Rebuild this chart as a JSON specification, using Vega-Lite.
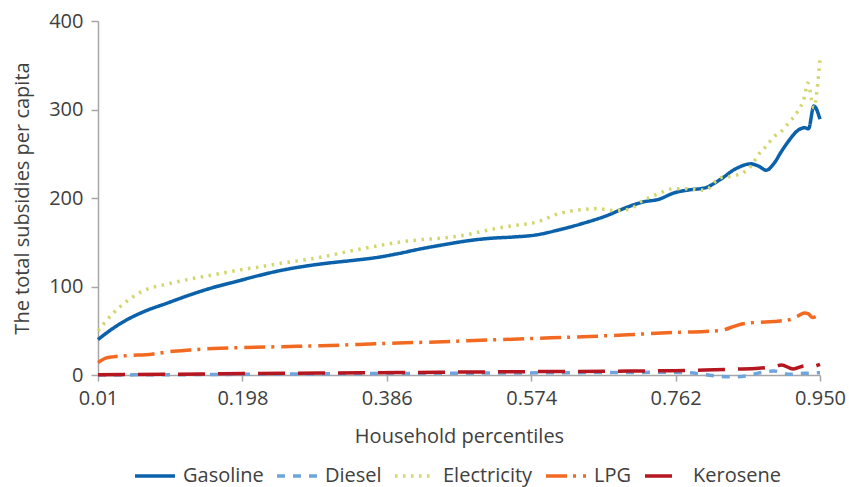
{
  "$schema": "https://vega.github.io/schema/vega-lite/v6.json",
  "autosize": {"type": "none"},
  "width": 722,
  "height": 354,
  "padding": {"left": 98, "top": 21, "right": 29, "bottom": 112},
  "background": "white",
  "config": {
    "view": {"stroke": null},
    "font": "Open Sans",
    "axis": {
      "domainColor": "#a6a6a6", "domainWidth": 1.5, "tickColor": "#a6a6a6", "tickWidth": 1.5,
      "labelFont": "Open Sans", "labelFontSize": 20, "labelColor": "#404040",
      "titleFont": "Open Sans", "titleFontSize": 20, "titleFontWeight": "normal", "titleColor": "#404040",
      "grid": false
    },
    "legend": {
      "labelFont": "Open Sans", "labelFontSize": 20, "labelColor": "#404040"
    }
  },
  "data": {
    "values": [
      {"fuel": "Gasoline", "p": 0.01, "v": 40},
      {"fuel": "Gasoline", "p": 0.03, "v": 53},
      {"fuel": "Gasoline", "p": 0.05, "v": 63.5},
      {"fuel": "Gasoline", "p": 0.07, "v": 71.7},
      {"fuel": "Gasoline", "p": 0.10, "v": 81.2},
      {"fuel": "Gasoline", "p": 0.13, "v": 90.6},
      {"fuel": "Gasoline", "p": 0.16, "v": 98.9},
      {"fuel": "Gasoline", "p": 0.19, "v": 105.7},
      {"fuel": "Gasoline", "p": 0.22, "v": 112.5},
      {"fuel": "Gasoline", "p": 0.25, "v": 118.5},
      {"fuel": "Gasoline", "p": 0.28, "v": 123},
      {"fuel": "Gasoline", "p": 0.31, "v": 126.5},
      {"fuel": "Gasoline", "p": 0.34, "v": 129.3},
      {"fuel": "Gasoline", "p": 0.37, "v": 132.4},
      {"fuel": "Gasoline", "p": 0.40, "v": 137},
      {"fuel": "Gasoline", "p": 0.43, "v": 142.5},
      {"fuel": "Gasoline", "p": 0.46, "v": 147.2},
      {"fuel": "Gasoline", "p": 0.49, "v": 151.5},
      {"fuel": "Gasoline", "p": 0.52, "v": 154.4},
      {"fuel": "Gasoline", "p": 0.55, "v": 155.9},
      {"fuel": "Gasoline", "p": 0.58, "v": 158.2},
      {"fuel": "Gasoline", "p": 0.61, "v": 164},
      {"fuel": "Gasoline", "p": 0.64, "v": 171},
      {"fuel": "Gasoline", "p": 0.67, "v": 179.3},
      {"fuel": "Gasoline", "p": 0.70, "v": 190},
      {"fuel": "Gasoline", "p": 0.72, "v": 195.6},
      {"fuel": "Gasoline", "p": 0.74, "v": 198.5},
      {"fuel": "Gasoline", "p": 0.76, "v": 205.8},
      {"fuel": "Gasoline", "p": 0.78, "v": 209.2},
      {"fuel": "Gasoline", "p": 0.80, "v": 211.4},
      {"fuel": "Gasoline", "p": 0.82, "v": 220.8},
      {"fuel": "Gasoline", "p": 0.84, "v": 232.9},
      {"fuel": "Gasoline", "p": 0.86, "v": 238.6},
      {"fuel": "Gasoline", "p": 0.87, "v": 236},
      {"fuel": "Gasoline", "p": 0.88, "v": 231.4},
      {"fuel": "Gasoline", "p": 0.89, "v": 239},
      {"fuel": "Gasoline", "p": 0.90, "v": 252.9},
      {"fuel": "Gasoline", "p": 0.91, "v": 265.4},
      {"fuel": "Gasoline", "p": 0.92, "v": 275.6},
      {"fuel": "Gasoline", "p": 0.93, "v": 279.4},
      {"fuel": "Gasoline", "p": 0.935, "v": 278.2},
      {"fuel": "Gasoline", "p": 0.942, "v": 303.9},
      {"fuel": "Gasoline", "p": 0.95, "v": 289},

      {"fuel": "Diesel", "p": 0.01, "v": 0},
      {"fuel": "Diesel", "p": 0.10, "v": 0.3},
      {"fuel": "Diesel", "p": 0.20, "v": 0.8},
      {"fuel": "Diesel", "p": 0.30, "v": 1.3},
      {"fuel": "Diesel", "p": 0.40, "v": 1.7},
      {"fuel": "Diesel", "p": 0.50, "v": 2.1},
      {"fuel": "Diesel", "p": 0.60, "v": 2.5},
      {"fuel": "Diesel", "p": 0.70, "v": 2.9},
      {"fuel": "Diesel", "p": 0.74, "v": 3},
      {"fuel": "Diesel", "p": 0.78, "v": 2.5},
      {"fuel": "Diesel", "p": 0.80, "v": 0.5},
      {"fuel": "Diesel", "p": 0.82, "v": -1.5},
      {"fuel": "Diesel", "p": 0.84, "v": -2},
      {"fuel": "Diesel", "p": 0.86, "v": 0},
      {"fuel": "Diesel", "p": 0.87, "v": 2.2},
      {"fuel": "Diesel", "p": 0.89, "v": 4.5},
      {"fuel": "Diesel", "p": 0.91, "v": 0.8},
      {"fuel": "Diesel", "p": 0.93, "v": 1.9},
      {"fuel": "Diesel", "p": 0.95, "v": 2.5},

      {"fuel": "Electricity", "p": 0.01, "v": 50},
      {"fuel": "Electricity", "p": 0.03, "v": 70},
      {"fuel": "Electricity", "p": 0.05, "v": 85},
      {"fuel": "Electricity", "p": 0.07, "v": 95.5},
      {"fuel": "Electricity", "p": 0.10, "v": 102.7},
      {"fuel": "Electricity", "p": 0.13, "v": 108.4},
      {"fuel": "Electricity", "p": 0.16, "v": 113.2},
      {"fuel": "Electricity", "p": 0.19, "v": 118.1},
      {"fuel": "Electricity", "p": 0.22, "v": 122},
      {"fuel": "Electricity", "p": 0.25, "v": 126.5},
      {"fuel": "Electricity", "p": 0.28, "v": 130.2},
      {"fuel": "Electricity", "p": 0.31, "v": 134.8},
      {"fuel": "Electricity", "p": 0.34, "v": 140.4},
      {"fuel": "Electricity", "p": 0.37, "v": 145.3},
      {"fuel": "Electricity", "p": 0.40, "v": 149.8},
      {"fuel": "Electricity", "p": 0.43, "v": 152.9},
      {"fuel": "Electricity", "p": 0.46, "v": 154.8},
      {"fuel": "Electricity", "p": 0.49, "v": 158.5},
      {"fuel": "Electricity", "p": 0.52, "v": 164.2},
      {"fuel": "Electricity", "p": 0.55, "v": 168.7},
      {"fuel": "Electricity", "p": 0.58, "v": 172.5},
      {"fuel": "Electricity", "p": 0.61, "v": 182.3},
      {"fuel": "Electricity", "p": 0.64, "v": 186.9},
      {"fuel": "Electricity", "p": 0.66, "v": 188},
      {"fuel": "Electricity", "p": 0.68, "v": 186},
      {"fuel": "Electricity", "p": 0.70, "v": 186.9},
      {"fuel": "Electricity", "p": 0.72, "v": 197.4},
      {"fuel": "Electricity", "p": 0.74, "v": 205},
      {"fuel": "Electricity", "p": 0.76, "v": 210.6},
      {"fuel": "Electricity", "p": 0.78, "v": 210.3},
      {"fuel": "Electricity", "p": 0.80, "v": 208.7},
      {"fuel": "Electricity", "p": 0.82, "v": 222.7},
      {"fuel": "Electricity", "p": 0.84, "v": 225.4},
      {"fuel": "Electricity", "p": 0.86, "v": 235.9},
      {"fuel": "Electricity", "p": 0.87, "v": 249.2},
      {"fuel": "Electricity", "p": 0.88, "v": 258.6},
      {"fuel": "Electricity", "p": 0.89, "v": 269.2},
      {"fuel": "Electricity", "p": 0.90, "v": 275.6},
      {"fuel": "Electricity", "p": 0.91, "v": 285.8},
      {"fuel": "Electricity", "p": 0.92, "v": 296.4},
      {"fuel": "Electricity", "p": 0.93, "v": 315},
      {"fuel": "Electricity", "p": 0.934, "v": 330},
      {"fuel": "Electricity", "p": 0.942, "v": 302},
      {"fuel": "Electricity", "p": 0.946, "v": 321},
      {"fuel": "Electricity", "p": 0.95, "v": 357},

      {"fuel": "LPG", "p": 0.01, "v": 14},
      {"fuel": "LPG", "p": 0.02, "v": 19},
      {"fuel": "LPG", "p": 0.03, "v": 20.5},
      {"fuel": "LPG", "p": 0.05, "v": 22},
      {"fuel": "LPG", "p": 0.08, "v": 23.5},
      {"fuel": "LPG", "p": 0.10, "v": 26},
      {"fuel": "LPG", "p": 0.13, "v": 28.3},
      {"fuel": "LPG", "p": 0.16, "v": 30},
      {"fuel": "LPG", "p": 0.20, "v": 31},
      {"fuel": "LPG", "p": 0.25, "v": 32},
      {"fuel": "LPG", "p": 0.30, "v": 33},
      {"fuel": "LPG", "p": 0.35, "v": 34.5},
      {"fuel": "LPG", "p": 0.40, "v": 36.2},
      {"fuel": "LPG", "p": 0.45, "v": 37.3},
      {"fuel": "LPG", "p": 0.50, "v": 39},
      {"fuel": "LPG", "p": 0.55, "v": 40.4},
      {"fuel": "LPG", "p": 0.60, "v": 42},
      {"fuel": "LPG", "p": 0.65, "v": 43.5},
      {"fuel": "LPG", "p": 0.70, "v": 45.5},
      {"fuel": "LPG", "p": 0.76, "v": 48},
      {"fuel": "LPG", "p": 0.80, "v": 49.2},
      {"fuel": "LPG", "p": 0.82, "v": 50.2},
      {"fuel": "LPG", "p": 0.84, "v": 55.5},
      {"fuel": "LPG", "p": 0.85, "v": 58},
      {"fuel": "LPG", "p": 0.87, "v": 59.5},
      {"fuel": "LPG", "p": 0.89, "v": 60.5},
      {"fuel": "LPG", "p": 0.91, "v": 62.5},
      {"fuel": "LPG", "p": 0.92, "v": 66},
      {"fuel": "LPG", "p": 0.93, "v": 70},
      {"fuel": "LPG", "p": 0.935, "v": 69},
      {"fuel": "LPG", "p": 0.94, "v": 65},
      {"fuel": "LPG", "p": 0.95, "v": 68.7},

      {"fuel": "Kerosene", "p": 0.01, "v": 0.2},
      {"fuel": "Kerosene", "p": 0.10, "v": 0.8},
      {"fuel": "Kerosene", "p": 0.20, "v": 1.6},
      {"fuel": "Kerosene", "p": 0.30, "v": 2.2},
      {"fuel": "Kerosene", "p": 0.40, "v": 2.8},
      {"fuel": "Kerosene", "p": 0.50, "v": 3.4},
      {"fuel": "Kerosene", "p": 0.60, "v": 3.9},
      {"fuel": "Kerosene", "p": 0.70, "v": 4.4},
      {"fuel": "Kerosene", "p": 0.76, "v": 4.9},
      {"fuel": "Kerosene", "p": 0.80, "v": 5.6},
      {"fuel": "Kerosene", "p": 0.84, "v": 6.6},
      {"fuel": "Kerosene", "p": 0.87, "v": 7.6},
      {"fuel": "Kerosene", "p": 0.89, "v": 9.5},
      {"fuel": "Kerosene", "p": 0.90, "v": 11.3},
      {"fuel": "Kerosene", "p": 0.915, "v": 6.8},
      {"fuel": "Kerosene", "p": 0.93, "v": 10.3},
      {"fuel": "Kerosene", "p": 0.94, "v": 9.6},
      {"fuel": "Kerosene", "p": 0.95, "v": 12}
    ]
  },
  "mark": {"type": "line", "strokeWidth": 3.5, "interpolate": "monotone", "clip": false},
  "encoding": {
    "x": {
      "field": "p", "type": "quantitative",
      "scale": {"domain": [0.01, 0.95], "nice": false, "zero": false},
      "axis": {
        "values": [0.01, 0.198, 0.386, 0.574, 0.762, 0.95],
        "labelExpr": "datum.value == 0.01 ? '0.01' : format(datum.value, '.3f')",
        "title": "Household percentiles",
        "tickSize": 6, "labelPadding": 7, "titlePadding": 18,
        "labelFlush": false, "labelOverlap": false
      }
    },
    "y": {
      "field": "v", "type": "quantitative",
      "scale": {"domain": [0, 400], "nice": false},
      "axis": {
        "values": [0, 100, 200, 300, 400],
        "title": "The total subsidies per capita",
        "tickSize": 7, "labelPadding": 8, "titlePadding": 16
      }
    },
    "color": {
      "field": "fuel", "type": "nominal",
      "scale": {
        "domain": ["Gasoline", "Diesel", "Electricity", "LPG", "Kerosene"],
        "range": ["#0b62aa", "#6fa5da", "#d3d66c", "#f26a22", "#b5161f"]
      },
      "legend": {
        "title": null, "orient": "none", "direction": "horizontal",
        "legendX": 35, "legendY": 433, "padding": 0,
        "symbolType": "stroke", "symbolSize": 1600, "symbolStrokeWidth": 3.5,
        "columnPadding": 6, "labelOffset": 6, "labelBaseline": "middle"
      }
    },
    "strokeDash": {
      "field": "fuel", "type": "nominal",
      "scale": {
        "domain": ["Gasoline", "Diesel", "Electricity", "LPG", "Kerosene"],
        "range": [[1, 0], [8, 8], [2.5, 5.5], [21, 6, 3, 7], [27, 13]]
      },
      "legend": {
        "title": null, "orient": "none", "direction": "horizontal",
        "legendX": 35, "legendY": 433, "padding": 0,
        "symbolType": "stroke", "symbolSize": 1600, "symbolStrokeWidth": 3.5,
        "columnPadding": 6, "labelOffset": 6, "labelBaseline": "middle"
      }
    }
  }
}
